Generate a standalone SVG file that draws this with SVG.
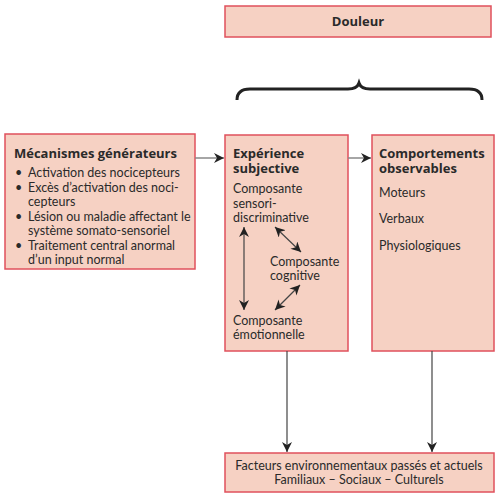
<svg xmlns="http://www.w3.org/2000/svg" width="501" height="498" viewBox="0 0 501 498">
<defs>
<style>
.box{fill:#f6d1c3;stroke:#e0505c;stroke-width:1.5}
text{font-family:Lato,"Liberation Sans",sans-serif;font-size:12.5px;fill:#2a2a2a}
.b{font-family:"Open Sans","Liberation Sans",sans-serif;font-weight:bold;font-size:13px}
.c{fill:none;stroke:#444;stroke-width:1.2}
.g{fill:none;stroke:#888;stroke-width:1.5}
</style>
<marker id="ah" viewBox="0 0 10 10" refX="10" refY="5" markerWidth="10" markerHeight="10" markerUnits="userSpaceOnUse" orient="auto-start-reverse">
<path d="M0,0 L10,5 L0,10 L3,5 Z" fill="#222"/>
</marker>
</defs>
<rect width="501" height="498" fill="#fff"/>
<g id="douleur">
<rect class="box" x="225" y="6" width="266" height="31"/>
<text class="b" x="358" y="26" text-anchor="middle">Douleur</text>
</g>
<g id="brace">
<path d="M237,100 Q237,89 250,89 L348,89 Q357,89 359,83 Q361,89 370,89 L469,89 Q482,89 482,100" fill="none" stroke="#222" stroke-width="3"/>
</g>
<g id="mecanismes">
<rect class="box" x="5" y="134" width="190" height="135"/>
<text class="b" x="14" y="158">Mécanismes générateurs</text>
<text x="15" y="177">•</text><text x="28" y="177">Activation des nocicepteurs</text>
<text x="15" y="192">•</text><text x="28" y="192">Excès d’activation des noci-</text>
<text x="28" y="206">cepteurs</text>
<text x="15" y="221">•</text><text x="28" y="221">Lésion ou maladie affectant le</text>
<text x="28" y="235">système somato-sensoriel</text>
<text x="15" y="250">•</text><text x="28" y="250">Traitement central anormal</text>
<text x="28" y="264">d’un input normal</text>
</g>
<g id="experience">
<rect class="box" x="225" y="135" width="123" height="216"/>
<text class="b" x="233" y="158">Expérience</text>
<text class="b" x="233" y="173">subjective</text>
<text x="233" y="193">Composante</text>
<text x="233" y="208">sensori-</text>
<text x="233" y="222">discriminative</text>
<text x="270" y="266">Composante</text>
<text x="270" y="280">cognitive</text>
<text x="233" y="325">Composante</text>
<text x="233" y="339">émotionnelle</text>
<line class="c" x1="244" y1="227" x2="244" y2="310" marker-start="url(#ah)" marker-end="url(#ah)"/>
<line class="c" x1="275" y1="227" x2="301" y2="252" marker-start="url(#ah)" marker-end="url(#ah)"/>
<line class="c" x1="300" y1="285" x2="275" y2="310" marker-start="url(#ah)" marker-end="url(#ah)"/>
</g>
<g id="comportements">
<rect class="box" x="372" y="135" width="122" height="216"/>
<text class="b" x="379" y="158">Comportements</text>
<text class="b" x="379" y="173">observables</text>
<text x="379" y="197">Moteurs</text>
<text x="379" y="223">Verbaux</text>
<text x="379" y="250">Physiologiques</text>
</g>
<g id="facteurs">
<rect class="box" x="225" y="453" width="269" height="39"/>
<text x="359" y="470" text-anchor="middle">Facteurs environnementaux passés et actuels</text>
<text x="359" y="484" text-anchor="middle">Familiaux – Sociaux – Culturels</text>
</g>
<g id="connectors">
<line class="g" x1="195" y1="158" x2="224" y2="158" marker-end="url(#ah)"/>
<line class="g" x1="348" y1="158" x2="371" y2="158" marker-end="url(#ah)"/>
<line class="c" x1="287" y1="351" x2="287" y2="452" marker-end="url(#ah)"/>
<line class="c" x1="432" y1="351" x2="432" y2="452" marker-end="url(#ah)"/>
</g>
</svg>
